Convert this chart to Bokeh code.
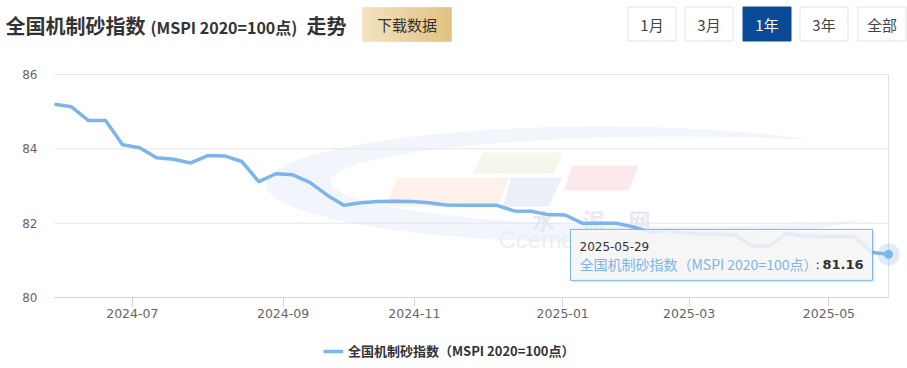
import numpy as np
from datetime import date
from bokeh.plotting import figure
from bokeh.models import (Range1d, FixedTicker, Legend, LegendItem, CustomJSTickFormatter)
from bokeh.embed import file_html
from bokeh.resources import INLINE
from bokeh.core.properties import value

# ---------------- data ----------------
dates = [
    "2024-05-30", "2024-06-06", "2024-06-13", "2024-06-20", "2024-06-27",
    "2024-07-04", "2024-07-11", "2024-07-18", "2024-07-25", "2024-08-01",
    "2024-08-08", "2024-08-15", "2024-08-22", "2024-08-29", "2024-09-05",
    "2024-09-12", "2024-09-19", "2024-09-26", "2024-10-10", "2024-10-17",
    "2024-10-24", "2024-10-31", "2024-11-07", "2024-11-14", "2024-11-21",
    "2024-11-28", "2024-12-05", "2024-12-12", "2024-12-19", "2024-12-26",
    "2025-01-02", "2025-01-09", "2025-01-16", "2025-01-23", "2025-02-06",
    "2025-02-13", "2025-02-20", "2025-02-27", "2025-03-06", "2025-03-13",
    "2025-03-20", "2025-03-27", "2025-04-03", "2025-04-10", "2025-04-17",
    "2025-04-24", "2025-05-08", "2025-05-15", "2025-05-22", "2025-05-29",
]
index_values = [
    85.20, 85.13, 84.76, 84.76, 84.11, 84.03, 83.76, 83.72, 83.62, 83.82,
    83.81, 83.66, 83.12, 83.33, 83.30, 83.10, 82.76, 82.48, 82.55, 82.58,
    82.59, 82.58, 82.55, 82.49, 82.48, 82.48, 82.48, 82.33, 82.32, 82.23,
    82.22, 82.00, 82.00, 82.00, 81.90, 81.76, 81.80, 81.74, 81.70, 81.70,
    81.68, 81.38, 81.38, 81.72, 81.66, 81.64, 81.64, 81.64, 81.22, 81.16,
]
x_tick_labels = ["2024-07", "2024-09", "2024-11", "2025-01", "2025-03", "2025-05"]
y_ticks = [80, 82, 84, 86]
series_name = "全国机制砂指数（MSPI 2020=100点）"
title_main = "全国机制砂指数"
title_sub = "(MSPI 2020=100点)"
title_tail = "走势"
download_label = "下载数据"
range_buttons = ["1月", "3月", "1年", "3年", "全部"]
active_button = "1年"
watermark_chars = ["水", "泥", "网"]
watermark_text = "Ccement.com"

# ---------------- style / geometry ----------------
LINE_COLOR = "#7cb5ec"
CJK = "Noto Sans CJK SC"
LAT = "DejaVu Sans"
TEXT_DARK = "#333333"

W, H = 907, 368
PLOT_LEFT, PLOT_RIGHT = 54, 888      # first / last data point, pixels
PLOT_TOP, PLOT_BOTTOM = 74, 297      # y = 86 / y = 80, pixels

n = len(index_values)
xs = list(range(n))
PXX = (n - 1) / (PLOT_RIGHT - PLOT_LEFT)
PXY = (y_ticks[-1] - y_ticks[0]) / (PLOT_BOTTOM - PLOT_TOP)


def px_x(page_x):
    return (page_x - PLOT_LEFT) * PXX


def px_y(page_y):
    return y_ticks[-1] - (page_y - PLOT_TOP) * PXY


def to_ord(s):
    y, m, d = map(int, s.split("-"))
    return date(y, m, d).toordinal()


date_ord = np.array([to_ord(d) for d in dates], dtype=float)
tick_pos = [round(float(np.interp(to_ord(lbl + "-01"), date_ord, xs)), 4)
            for lbl in x_tick_labels]

p = figure(width=W, height=H,
           x_range=Range1d(px_x(0), px_x(W)),
           y_range=Range1d(px_y(H), px_y(0)),
           output_backend="svg", toolbar_location=None, min_border=0)
p.title.visible = False
p.outline_line_color = None
p.grid.visible = False
p.background_fill_color = "#ffffff"
p.border_fill_color = "#ffffff"

# ---------------- header ----------------
p.text(x=[px_x(5)], y=[px_y(25)], text=[title_main], text_font=value(CJK), text_font_size="20px",
       text_font_style="bold", text_color=TEXT_DARK, text_baseline="middle", text_align="left")
p.text(x=[px_x(150)], y=[px_y(26)], text=[title_sub], text_font=value(CJK), text_font_size="16px",
       text_font_style="bold", text_color=TEXT_DARK, text_baseline="middle", text_align="left")
p.text(x=[px_x(306)], y=[px_y(25)], text=[title_tail], text_font=value(CJK), text_font_size="20px",
       text_font_style="bold", text_color=TEXT_DARK, text_baseline="middle", text_align="left")

nstrip = 30
bx0, bx1 = 362, 451
edges = np.linspace(bx0, bx1, nstrip + 1)
c0 = np.array([0xf3, 0xe2, 0xbe])
c1 = np.array([0xe2, 0xc2, 0x82])
cols = ["#%02x%02x%02x" % tuple(int(round(v)) for v in (c0 + (c1 - c0) * t))
        for t in np.linspace(0, 1, nstrip)]
p.quad(left=[px_x(e) for e in edges[:-1]], right=[px_x(e) for e in edges[1:]],
       top=px_y(7), bottom=px_y(41), fill_color=cols, line_color=cols, line_width=0.6)
p.text(x=[px_x((bx0 + bx1) / 2)], y=[px_y(24)], text=[download_label], text_font=value(CJK),
       text_font_size="15px", text_color=TEXT_DARK, text_baseline="middle", text_align="center")

btn_left = [627.5, 684.5, 742.5, 799.5, 857.5]
btn_w = 48
btn_fill = ["#0a4a96" if b == active_button else "#ffffff" for b in range_buttons]
btn_line = ["#0a4a96" if b == active_button else "#e3e3e3" for b in range_buttons]
btn_text = ["#ffffff" if b == active_button else "#444444" for b in range_buttons]
p.quad(left=[px_x(l) for l in btn_left], right=[px_x(l + btn_w) for l in btn_left],
       top=px_y(6.5), bottom=px_y(40.5), fill_color=btn_fill, line_color=btn_line, line_width=1)
p.text(x=[px_x(l + btn_w / 2) for l in btn_left], y=[px_y(23.5)] * len(range_buttons),
       text=range_buttons, text_font=value(CJK), text_font_size="15px", text_color=btn_text,
       text_baseline="middle", text_align="center")

# ---------------- watermark (very faint) ----------------
p.ellipse(x=[px_x(600)], y=[px_y(184)], width=[668], height=[116],
          width_units="screen", height_units="screen",
          fill_color="#f2f6fc", line_color=None, level="image")
p.ellipse(x=[px_x(680)], y=[px_y(181)], width=[700], height=[90],
          width_units="screen", height_units="screen",
          fill_color="#ffffff", line_color=None, level="image")
wm_shapes = [
    ([397, 508, 498, 385], [177, 177, 206, 206], "#fdf1e9"),
    ([483, 562, 553, 472], [152, 152, 173, 173], "#f3f7ec"),
    ([510, 562, 548, 503], [177, 177, 206, 206], "#ebf0f7"),
    ([572, 638, 628, 563], [165, 165, 190, 190], "#fbe9eb"),
]
p.patches(xs=[[px_x(v) for v in s[0]] for s in wm_shapes],
          ys=[[px_y(v) for v in s[1]] for s in wm_shapes],
          fill_color=[s[2] for s in wm_shapes], line_color=None, level="image")
p.text(x=[px_x(v) for v in (532, 582, 628)], y=[px_y(218)] * 3, text=watermark_chars,
       text_font=value(CJK), text_font_size="22px", text_font_style="bold",
       text_color="#e6e9ef", text_baseline="middle", text_align="left", level="image")
p.text(x=[px_x(498)], y=[px_y(239)], text=[watermark_text], text_font=value("Liberation Sans"),
       text_font_size="24px", text_color="#eeeeee", text_baseline="middle",
       text_align="left", level="image")

# ---------------- grid / axes ----------------
p.segment(x0=[0] * len(y_ticks), x1=[n - 1] * len(y_ticks), y0=y_ticks, y1=y_ticks,
          line_color="#e6e6e6", line_width=1, level="underlay")
p.segment(x0=[n - 1], x1=[n - 1], y0=[y_ticks[0]], y1=[y_ticks[-1]],
          line_color="#e0e0e0", line_width=1, level="underlay")

yax = p.yaxis[0]
yax.fixed_location = 0
yax.ticker = FixedTicker(ticks=y_ticks)
yax.axis_line_color = None
yax.major_tick_line_color = None
yax.minor_tick_line_color = None
yax.major_tick_out = 0
yax.major_label_standoff = 17
yax.major_label_text_font = LAT
yax.major_label_text_font_size = "12px"
yax.major_label_text_color = "#666666"

xax = p.xaxis[0]
xax.fixed_location = y_ticks[0]
xax.ticker = FixedTicker(ticks=tick_pos)
xax.formatter = CustomJSTickFormatter(args=dict(pos=tick_pos, labels=x_tick_labels), code="""
    let best = 0, bd = 1e9;
    for (let i = 0; i < pos.length; i++) {
        const d = Math.abs(pos[i] - tick);
        if (d < bd) { bd = d; best = i; }
    }
    return labels[best];
""")
xax.bounds = (0, n - 1)
xax.axis_line_color = "#ccd6eb"
xax.major_tick_line_color = "#ccd6eb"
xax.minor_tick_line_color = None
xax.major_tick_in = 0
xax.major_tick_out = 9
xax.major_label_standoff = 2
xax.major_label_text_font = LAT
xax.major_label_text_font_size = "12.5px"
xax.major_label_text_color = "#666666"

# ---------------- series ----------------
r_line = p.line(x=xs, y=index_values, line_color=LINE_COLOR, line_width=3.5, line_join="round")

# ---------------- tooltip ----------------
lx, ly = xs[-1], index_values[-1]
tip_right = lx - 16 * PXX
tip_left = tip_right - 302 * PXX
tip_top = ly + 25 * PXY
tip_bottom = ly - 26 * PXY
p.quad(left=[tip_left + 2 * PXX], right=[tip_right + 2 * PXX], top=[tip_top - 2 * PXY],
       bottom=[tip_bottom - 2 * PXY], fill_color="#000000", fill_alpha=0.08, line_color=None)
p.quad(left=[tip_left], right=[tip_right], top=[tip_top], bottom=[tip_bottom],
       fill_color="#f8f8f8", fill_alpha=0.86, line_color=LINE_COLOR, line_width=1)
p.text(x=[tip_left + 9 * PXX], y=[tip_top - 17 * PXY], text=[dates[-1]],
       text_font=value(LAT), text_font_size="12px", text_color=TEXT_DARK,
       text_baseline="middle", text_align="left")
p.text(x=[tip_left + 9 * PXX], y=[tip_top - 35 * PXY], text=[series_name],
       text_font=value(CJK), text_font_size="14px", text_color=LINE_COLOR,
       text_baseline="middle", text_align="left")
p.text(x=[tip_right - 9 * PXX], y=[tip_top - 35 * PXY], text=[f"{index_values[-1]:.2f}"],
       text_font=value(LAT), text_font_size="13px", text_font_style="bold",
       text_color=TEXT_DARK, text_baseline="middle", text_align="right")
p.text(x=[tip_right - 57 * PXX], y=[tip_top - 35 * PXY], text=[":"],
       text_font=value(LAT), text_font_size="13px", text_color=TEXT_DARK,
       text_baseline="middle", text_align="left")

# highlighted last point
p.scatter(x=[lx], y=[ly], size=22, fill_color=LINE_COLOR, fill_alpha=0.25, line_color=None)
p.scatter(x=[lx], y=[ly], size=9, fill_color=LINE_COLOR, line_color=None)

# ---------------- legend ----------------
leg = Legend(items=[LegendItem(label=series_name, renderers=[r_line])],
             location=(323, H - 360), orientation="horizontal",
             border_line_color=None, background_fill_alpha=0,
             label_text_font=CJK, label_text_font_size="13px",
             label_text_font_style="bold", label_text_color=TEXT_DARK,
             glyph_width=20, glyph_height=16, label_height=16,
             label_standoff=5, padding=0, margin=0)
p.add_layout(leg)

open("out.html", "w").write(file_html(p, INLINE))
